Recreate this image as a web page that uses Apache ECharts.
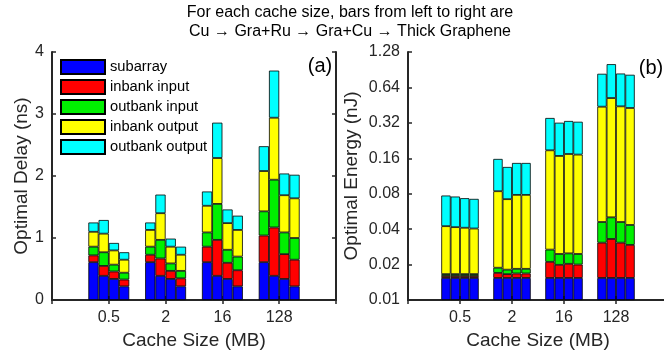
<!DOCTYPE html>
<html>
<head>
<meta charset="utf-8">
<script src="https://cdn.jsdelivr.net/npm/echarts@6/dist/echarts.min.js"></script>
<style>
  html, body { margin: 0; padding: 0; background: #fff; }
  #chart { width: 664px; height: 350px; }
</style>
</head>
<body>
<div id="chart"></div>
<script>
// x categories, padded with an empty slot at both ends (matlab xlim [0 5])
var cacheSizes = ['', '0.5', '2', '16', '128', ''];
var materials = ['Cu', 'GraRu', 'GraCu', 'Thick'];
var parts = ['subarray', 'inbank input', 'outbank input', 'inbank output', 'outbank output'];
var partColors = ['#0000FF', '#FF0000', '#00F000', '#FFFF00', '#00FFFF'];

// delay (ns), one row per part, one column per cache size (0.5, 2, 16, 128)
var delayCu = [
  [0.61, 0.61, 0.61, 0.61],
  [0.11, 0.12, 0.25, 0.43],
  [0.14, 0.13, 0.23, 0.39],
  [0.24, 0.27, 0.43, 0.65],
  [0.15, 0.12, 0.23, 0.40]
];
var delayGraRu = [
  [0.39, 0.39, 0.39, 0.39],
  [0.16, 0.28, 0.58, 0.78],
  [0.22, 0.30, 0.58, 0.77],
  [0.30, 0.43, 0.74, 1.00],
  [0.22, 0.30, 0.57, 0.76]
];
var delayGraCu = [
  [0.34, 0.34, 0.34, 0.34],
  [0.12, 0.13, 0.26, 0.40],
  [0.11, 0.12, 0.21, 0.35],
  [0.23, 0.27, 0.43, 0.60],
  [0.12, 0.13, 0.22, 0.35]
];
var delayThick = [
  [0.22, 0.22, 0.22, 0.22],
  [0.11, 0.13, 0.26, 0.43],
  [0.11, 0.12, 0.22, 0.35],
  [0.21, 0.26, 0.43, 0.64],
  [0.12, 0.13, 0.23, 0.38]
];

// energy (nJ), same layout
var energyCu = [
  [0.0154, 0.0154, 0.0154, 0.0154],
  [0.0006, 0.0016, 0.0057, 0.0153],
  [0.0006, 0.0018, 0.0057, 0.0153],
  [0.0258, 0.0652, 0.1602, 0.3930],
  [0.0348, 0.0740, 0.1650, 0.3970]
];
var energyGraRu = [
  [0.0154, 0.0154, 0.0154, 0.0154],
  [0.0006, 0.0012, 0.0045, 0.0176],
  [0.0006, 0.0015, 0.0047, 0.0174],
  [0.0250, 0.0538, 0.1429, 0.4696],
  [0.0341, 0.0631, 0.1535, 0.4890]
];
var energyGraCu = [
  [0.0154, 0.0154, 0.0154, 0.0154],
  [0.0006, 0.0014, 0.0049, 0.0153],
  [0.0006, 0.0016, 0.0046, 0.0153],
  [0.0245, 0.0598, 0.1491, 0.3960],
  [0.0322, 0.0678, 0.1580, 0.3980]
];
var energyThick = [
  [0.0154, 0.0154, 0.0154, 0.0154],
  [0.0006, 0.0014, 0.0046, 0.0140],
  [0.0006, 0.0016, 0.0046, 0.0140],
  [0.0239, 0.0598, 0.1474, 0.3846],
  [0.0318, 0.0678, 0.1550, 0.3920]
];

// log2 energy axis, starting at 0.01 nJ
var energyBase = 0.01;
var energyTicks = ['0.01', '0.02', '0.04', '0.08', '0.16', '0.32', '0.64', '1.28'];

var delayData = [delayCu, delayGraRu, delayGraCu, delayThick];
var energyData = [energyCu, energyGraRu, energyGraCu, energyThick];

var font = 'Liberation Sans, Arial, Helvetica, sans-serif';
var axisColor = '#262626';

function pad(arr) {
  return ['-'].concat(arr, ['-']);
}

function barSeries(name, color, stack, data, gridIdx) {
  return {
    name: name,
    type: 'bar',
    stack: stack,
    xAxisIndex: gridIdx * 2,
    yAxisIndex: gridIdx * 2,
    data: pad(data),
    barGap: '0%',
    barCategoryGap: '28%',
    itemStyle: { color: color, borderColor: '#000', borderWidth: 0.8 },
    emphasis: { disabled: true },
    animation: false
  };
}

var series = [];
// delay: plain stacks
delayData.forEach(function (mat, m) {
  mat.forEach(function (vals, p) {
    series.push(barSeries(parts[p], partColors[p], 'd' + materials[m], vals, 0));
  });
});
// energy: stack the log2 steps so each segment spans prev..cum on the log scale
energyData.forEach(function (mat, m) {
  var cum = mat[0].map(function () { return 0; });
  mat.forEach(function (vals, p) {
    var seg = vals.map(function (v, i) {
      var before = p === 0 ? 0 : Math.log2(cum[i] / energyBase);
      cum[i] += v;
      return Math.log2(cum[i] / energyBase) - before;
    });
    series.push(barSeries(parts[p], partColors[p], 'e' + materials[m], seg, 1));
  });
});

function xAxes(gridIdx) {
  var base = {
    type: 'category',
    gridIndex: gridIdx,
    data: cacheSizes,
    boundaryGap: false,
    axisLine: { lineStyle: { color: axisColor, width: 2 } },
    axisTick: { inside: true, length: 4, lineStyle: { width: 1.5 } }
  };
  return [
    Object.assign({}, base, {
      position: 'bottom',
      axisLabel: { interval: 0, fontSize: 16, margin: 10, color: axisColor, fontFamily: font },
      name: 'Cache Size (MB)',
      nameLocation: 'middle',
      nameGap: 28,
      nameTextStyle: { fontSize: 19, color: axisColor, fontFamily: font }
    }),
    Object.assign({}, base, { position: 'top', axisLabel: { show: false } })
  ];
}

function yAxes(gridIdx, max, name, nameGap, formatter) {
  var base = {
    type: 'value',
    gridIndex: gridIdx,
    min: 0,
    max: max,
    interval: 1,
    splitLine: { show: false },
    axisLine: { show: true, lineStyle: { color: axisColor, width: 2 } },
    axisTick: { show: true, inside: true, length: 4, lineStyle: { width: 1.5 } }
  };
  return [
    Object.assign({}, base, {
      position: 'left',
      axisLabel: { fontSize: 16, margin: 8, color: axisColor, fontFamily: font, formatter: formatter },
      name: name,
      nameLocation: 'middle',
      nameGap: nameGap,
      nameTextStyle: { fontSize: 19, color: axisColor, fontFamily: font }
    }),
    Object.assign({}, base, { position: 'right', axisLabel: { show: false } })
  ];
}

var chart = echarts.init(document.getElementById('chart'));
chart.setOption({
  animation: false,
  textStyle: { fontFamily: font },
  grid: [
    { left: 52, right: 328, top: 52, bottom: 50, outerBoundsMode: 'none' },
    { left: 408, right: -4, top: 52, bottom: 50, outerBoundsMode: 'none' }
  ],
  xAxis: xAxes(0).concat(xAxes(1)),
  yAxis: yAxes(0, 4, 'Optimal Delay (ns)', 19, null).concat(
    yAxes(1, 7, 'Optimal Energy (nJ)', 47, function (v) { return energyTicks[v]; })),
  legend: {
    data: parts,
    orient: 'vertical',
    left: 60,
    top: 59,
    padding: 0,
    itemWidth: 44,
    itemHeight: 14,
    itemGap: 4,
    icon: 'rect',
    selectedMode: false,
    textStyle: { fontSize: 14.7, color: '#000', fontFamily: font }
  },
  graphic: [
    {
      type: 'text', x: 350, y: 13,
      style: { text: 'For each cache size, bars from left to right are', fill: '#000',
               font: '16px ' + font, textAlign: 'center', textVerticalAlign: 'middle' }
    },
    {
      type: 'text', x: 350, y: 32,
      style: { text: 'Cu \u2192 Gra+Ru \u2192 Gra+Cu \u2192 Thick Graphene', fill: '#000',
               font: '16px ' + font, textAlign: 'center', textVerticalAlign: 'middle' }
    },
    {
      type: 'text', x: 320, y: 66,
      style: { text: '(a)', fill: '#000', font: '20px ' + font, textAlign: 'center', textVerticalAlign: 'middle' }
    },
    {
      type: 'text', x: 651, y: 68,
      style: { text: '(b)', fill: '#000', font: '20px ' + font, textAlign: 'center', textVerticalAlign: 'middle' }
    }
  ],
  series: series
});
</script>
</body>
</html>
